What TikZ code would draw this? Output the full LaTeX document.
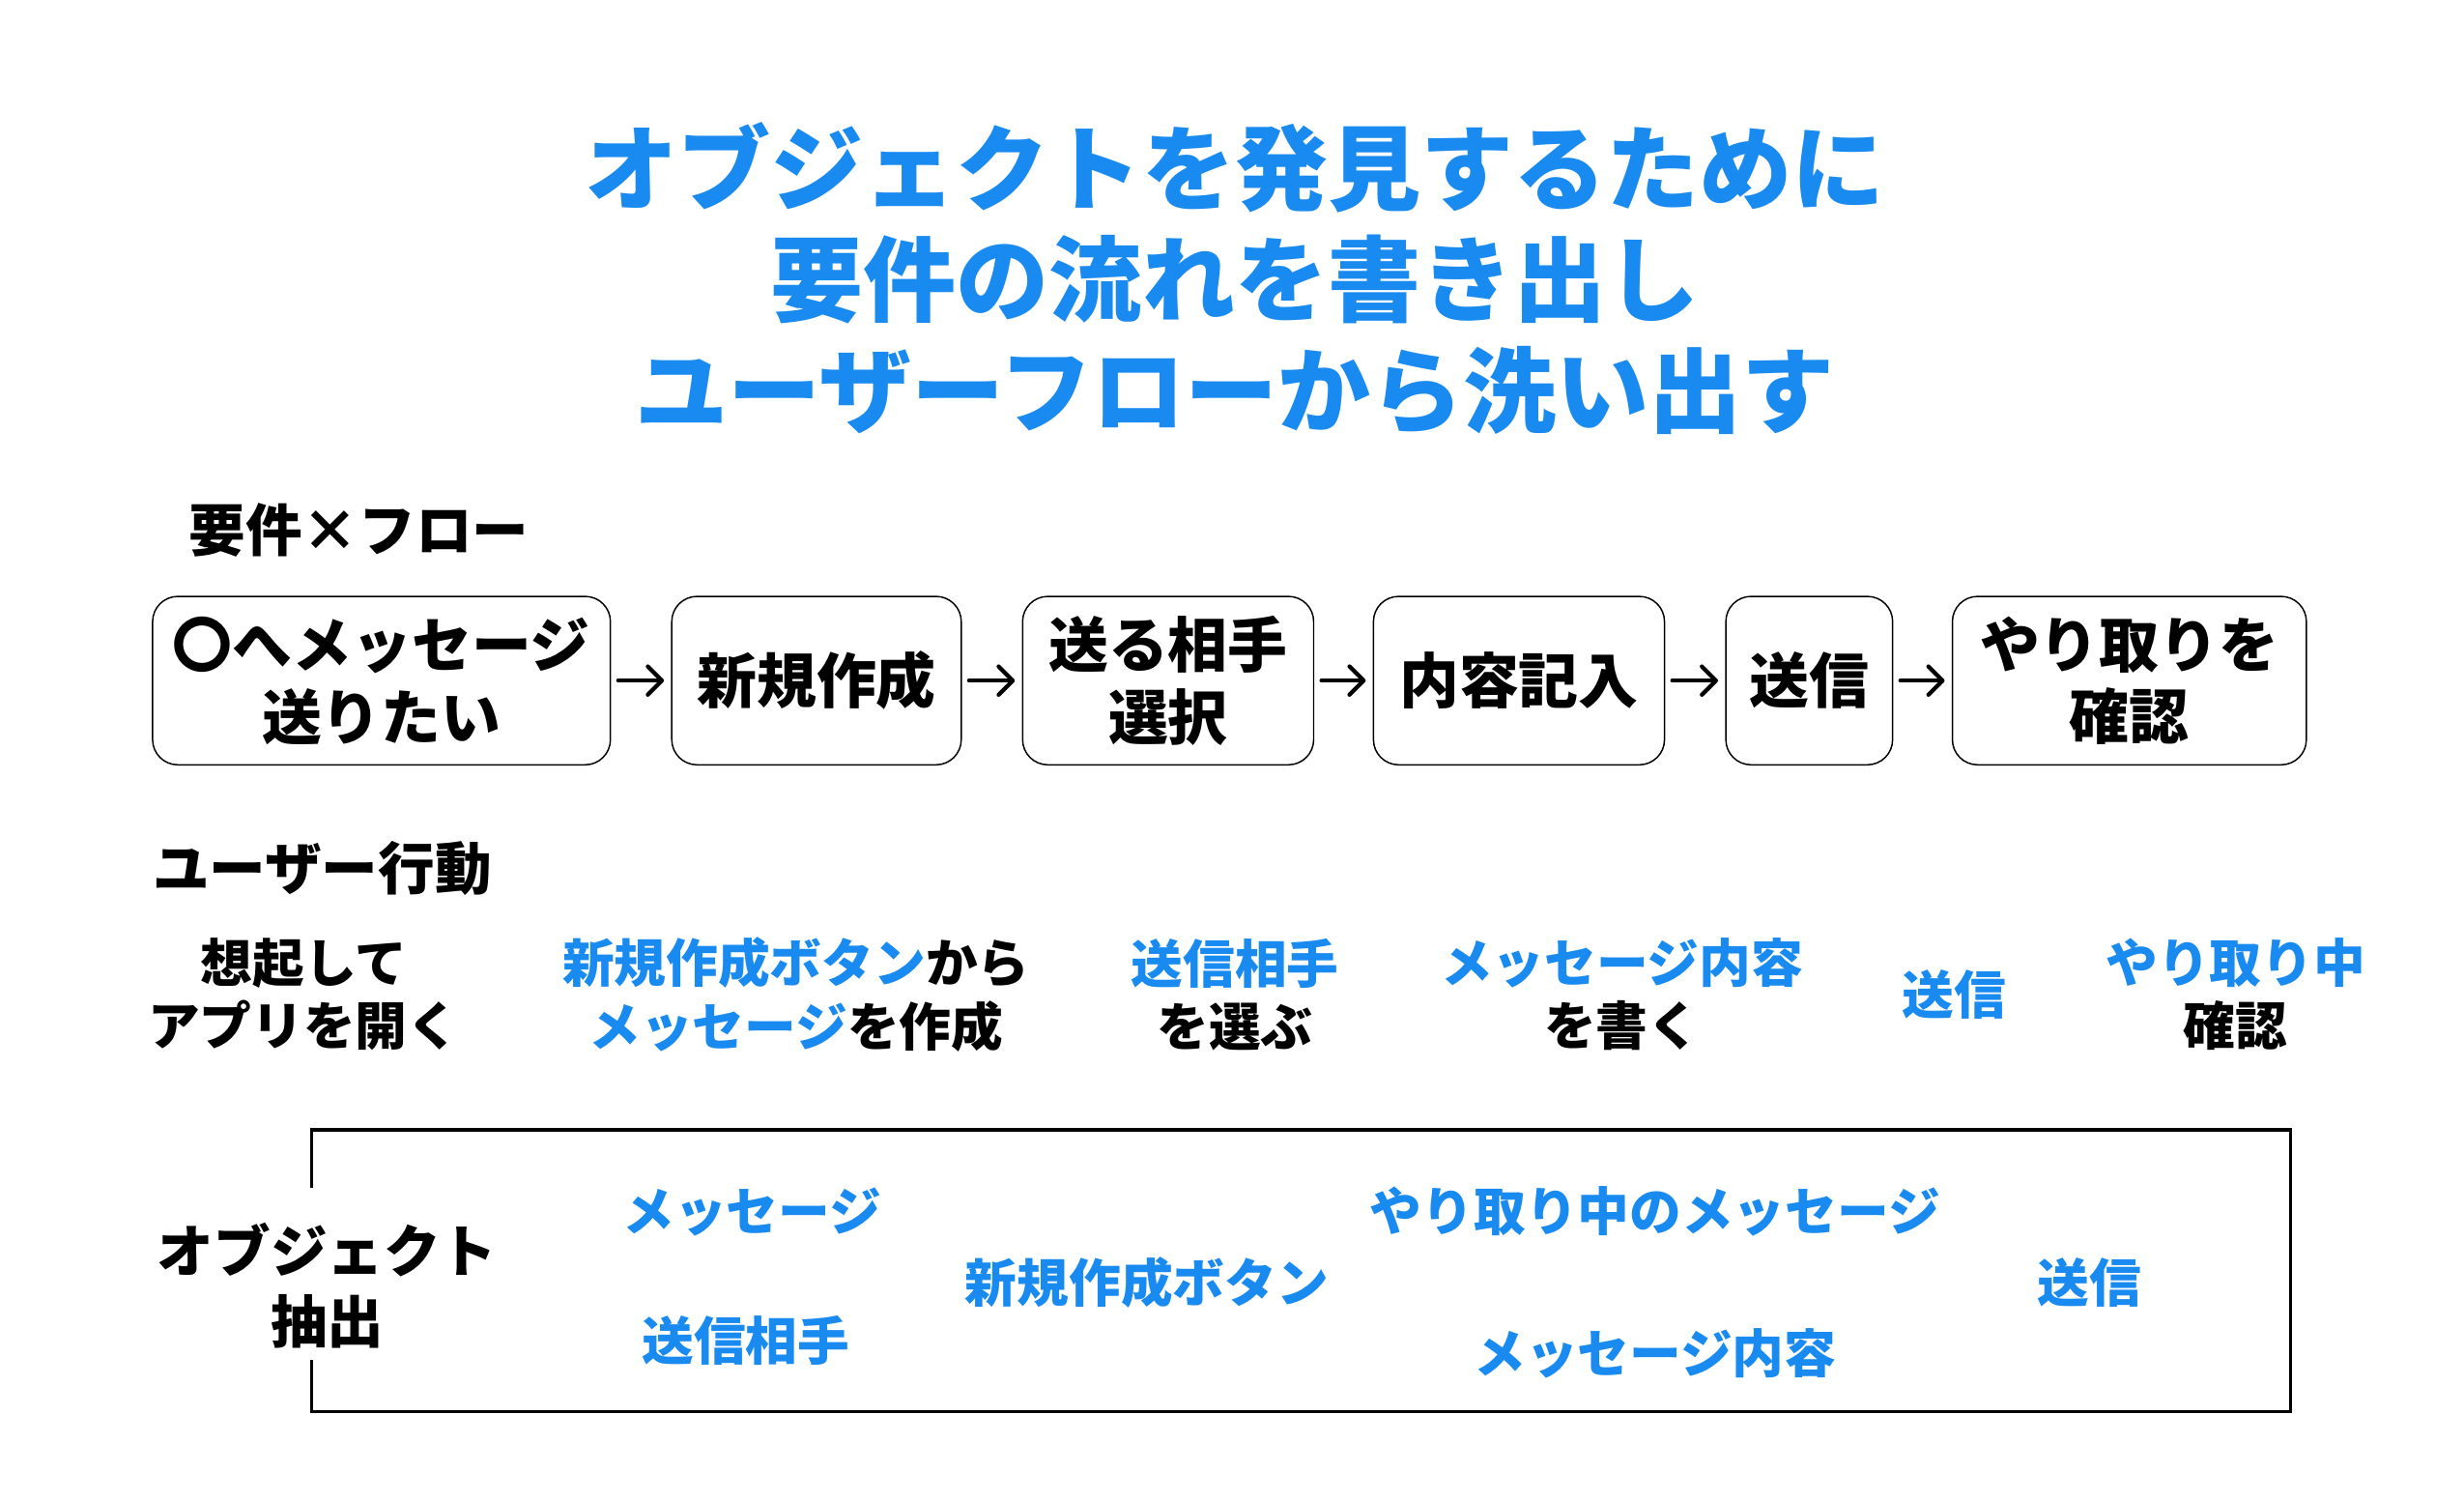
\documentclass[tikz,border=0pt]{standalone}
\usepackage{fontspec}
\setmainfont{Noto Sans CJK JP}
\usetikzlibrary{arrows.meta}
\definecolor{accent}{RGB}{25,138,240}
\newcommand{\ac}[1]{\textcolor{accent}{#1}}
\tikzset{
  titletext/.style={align=center, text=accent, inner sep=0pt, font=\fontsize{59}{70.5}\selectfont\bfseries},
  sectionlabel/.style={anchor=west, inner sep=0pt, font=\fontsize{36}{45}\selectfont\bfseries},
  flowbox/.style={draw, rounded corners=16pt, line width=0.9pt, minimum height=107pt, align=center, inner sep=0pt, font=\fontsize{38}{46}\selectfont\bfseries},
  flowarrow/.style={-{Straight Barb[length=9pt,width=18pt,line cap=round,line join=round]}, line width=2.6pt, line cap=round, shorten >=4.5pt, shorten <=4.5pt},
  actiontext/.style={align=center, inner sep=0pt, font=\fontsize{33}{40}\selectfont\bfseries},
  objtext/.style={inner sep=0pt, text=accent, font=\fontsize{33}{40}\selectfont\bfseries},
  objlabel/.style={align=center, inner sep=0pt, font=\fontsize{36}{45}\selectfont\bfseries},
  frameline/.style={line width=1.9pt}
}
\begin{document}
\begin{tikzpicture}[x=1pt,y=-1pt]
\useasboundingbox (0,0) rectangle (1566.2,953.8);
% title
\node[titletext] (title) at (785,177) {オブジェクトを発見するために\\要件の流れを書き出し\\ユーザーフローから洗い出す};
% section labels
\node[sectionlabel] (lblflow) at (120,337) {要件×フロー};
\node[sectionlabel] (lblact) at (97,552) {ユーザー行動};
% flow boxes
\node[flowbox, minimum width=291pt] (b1) at (242.5,432.5) {〇へメッセージ\\送りたい};
\node[flowbox, minimum width=184pt] (b2) at (519,432.5) {新規作成};
\node[flowbox, minimum width=185pt] (b3) at (742.5,432.5) {送る相手\\選択};
\node[flowbox, minimum width=185pt] (b4) at (965.5,432.5) {内容記入};
\node[flowbox, minimum width=106pt] (b5) at (1150,432.5) {送信};
\node[flowbox, minimum width=225pt] (b6) at (1353.5,432.5) {やり取りを\\確認};
\draw[flowarrow] (b1) -- (b2);
\draw[flowarrow] (b2) -- (b3);
\draw[flowarrow] (b3) -- (b4);
\draw[flowarrow] (b4) -- (b5);
\draw[flowarrow] (b5) -- (b6);
% user actions
\node[actiontext] (a1) at (193,632) {想起して\\アプリを開く};
\node[actiontext] (a2) at (506,632) {\ac{新規作成ボタン}から\\\ac{メッセージ}を作成};
\node[actiontext] (a3) at (785,632) {\ac{送信相手}\\を選ぶ};
\node[actiontext] (a4) at (1031,632) {\ac{メッセージ内容}\\を書く};
\node[actiontext] (a5) at (1242,632) {\ac{送信}};
\node[actiontext] (a6) at (1421,632) {\ac{やり取り中}\\確認};
% object frame
\coordinate (TL) at (198,718);
\coordinate (BR) at (1456,897);
\coordinate (gapT) at (198,755);
\coordinate (gapB) at (198,864);
\node[objlabel] (objlbl) at (208,817) {オブジェクト\\抽出};
\draw[frameline] (gapT) -- (TL) -- (TL -| BR) -- (BR) -- (BR -| TL) -- (gapB);
% objects
\node[objtext] (o1) at (478,770) {メッセージ};
\node[objtext] (o2) at (474,852) {送信相手};
\node[objtext] (o3) at (729,815) {新規作成ボタン};
\node[objtext] (o4) at (1052,770) {やり取り中のメッセージ};
\node[objtext] (o5) at (1052,860) {メッセージ内容};
\node[objtext] (o6) at (1328,815) {送信};
\end{tikzpicture}
\end{document}
